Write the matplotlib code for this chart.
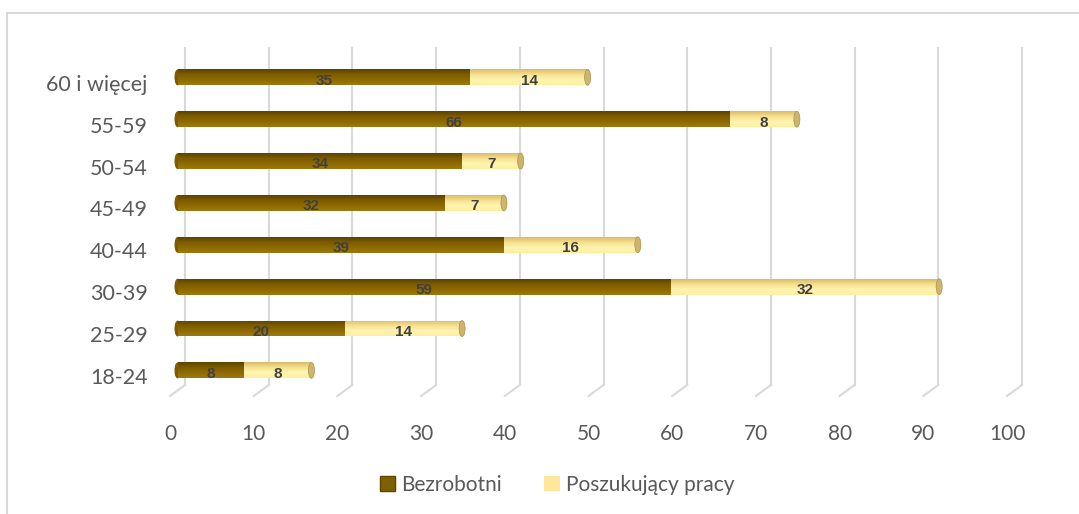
import matplotlib.pyplot as plt
import numpy as np
from matplotlib.patches import Rectangle, Ellipse, Patch
from matplotlib.colors import LinearSegmentedColormap

# dane
kategorie = ["18-24", "25-29", "30-39", "40-44", "45-49", "50-54", "55-59", "60 i więcej"]
bezrobotni = [8, 20, 59, 39, 32, 34, 66, 35]
poszukujacy = [8, 14, 32, 16, 7, 7, 8, 14]
os_x = [0, 10, 20, 30, 40, 50, 60, 70, 80, 90, 100]

W, H = 1079, 514
plt.rcParams["font.family"] = ["Lato", "DejaVu Sans"]
tekst = "#595959"

fig = plt.figure(figsize=(W / 100, H / 100), dpi=100)
ax = fig.add_axes([170 / W, 1 - 396 / H, 837 / W, (396 - 59) / H])

x_lim = (0, 100)
y_lim = (-0.48, 7.57)
px_x = 837 / 100          # pikseli na jednostkę osi x
px_y = (396 - 59) / (y_lim[1] - y_lim[0])
glab_x = 15 / px_x        # głębokość "3D"
glab_y = 11 / px_y

# siatka: ściana tylna + podłoga
for v in os_x:
    ax.plot([v + glab_x, v + glab_x], [y_lim[0] + glab_y, y_lim[1] + glab_y],
            color="#d9d9d9", lw=1.5, zorder=1, clip_on=False)
    ax.plot([v, v + glab_x], [y_lim[0], y_lim[0] + glab_y],
            color="#d9d9d9", lw=1.5, zorder=1, clip_on=False)

cm_ciemny = LinearSegmentedColormap.from_list(
    "c", ["#9c7a12", "#8f6a00", "#7d5c00", "#5c4300"])
cm_jasny = LinearSegmentedColormap.from_list(
    "j", ["#ffef9c", "#fff4b4", "#f8e08c", "#d8bc6a"])
grad = np.linspace(0, 1, 64).reshape(-1, 1)

y = np.arange(len(kategorie)) + glab_y / 2
dx = glab_x / 2
h = 0.38
cap_w = 6 / px_x

def cylinder(yy, left, width, cmap, z):
    rect = Rectangle((left + dx, yy - h / 2), width, h, facecolor="none",
                     edgecolor="none")
    ax.add_patch(rect)
    im = ax.imshow(grad, extent=[left + dx, left + dx + width, yy + h / 2, yy - h / 2],
                   aspect="auto", cmap=cmap, zorder=z, interpolation="bilinear")
    im.set_clip_path(rect)

for i in range(len(kategorie)):
    ax.add_patch(Ellipse((dx, y[i]), cap_w, h, facecolor="#7d5c00",
                         edgecolor="none", zorder=2))
    cylinder(y[i], 0, bezrobotni[i], cm_ciemny, 3)
    cylinder(y[i], bezrobotni[i], poszukujacy[i], cm_jasny, 3)
    koniec = dx + bezrobotni[i] + poszukujacy[i]
    ax.add_patch(Ellipse((koniec, y[i]), cap_w, h, facecolor="#cdb56e",
                         edgecolor="#a89050", lw=0.5, zorder=3.5))
    ax.text(dx + bezrobotni[i] / 2, y[i] - 0.08, str(bezrobotni[i]), ha="center",
            va="center", fontsize=11, fontweight="bold", color="#404040",
            family="Liberation Sans", zorder=5)
    ax.text(dx + bezrobotni[i] + poszukujacy[i] / 2, y[i] - 0.08, str(poszukujacy[i]),
            ha="center", va="center", fontsize=11, fontweight="bold",
            color="#404040", family="Liberation Sans", zorder=5)

ax.set_xlim(*x_lim)
ax.set_ylim(*y_lim)
ax.set_xticks(os_x)
ax.set_yticks(np.arange(len(kategorie)))
ax.set_yticklabels(kategorie)
ax.tick_params(axis="x", length=0, pad=20, labelsize=15, labelcolor=tekst)
ax.tick_params(axis="y", length=0, pad=16, labelsize=15.5, labelcolor=tekst)
for s in ax.spines.values():
    s.set_visible(False)
ax.set_facecolor("none")

# legenda
uchwyty = [Patch(facecolor="#7f6000", edgecolor="#5c4300"),
           Patch(facecolor="#ffe699", edgecolor="none")]
fig.legend(uchwyty, ["Bezrobotni", "Poszukujący pracy"], loc="center",
           bbox_to_anchor=(557 / W, 1 - 485 / H), ncol=2, frameon=False,
           fontsize=15, labelcolor=tekst, handlelength=0.75, handleheight=0.75,
           handletextpad=0.3, columnspacing=2.0)

# ramka
fig.add_artist(Rectangle((7 / W, -0.1), 1.2, 1 - 13 / H + 0.1,
                         transform=fig.transFigure, fill=False,
                         edgecolor="#d9d9d9", lw=1.5))

fig.savefig("out.png", dpi=100)
